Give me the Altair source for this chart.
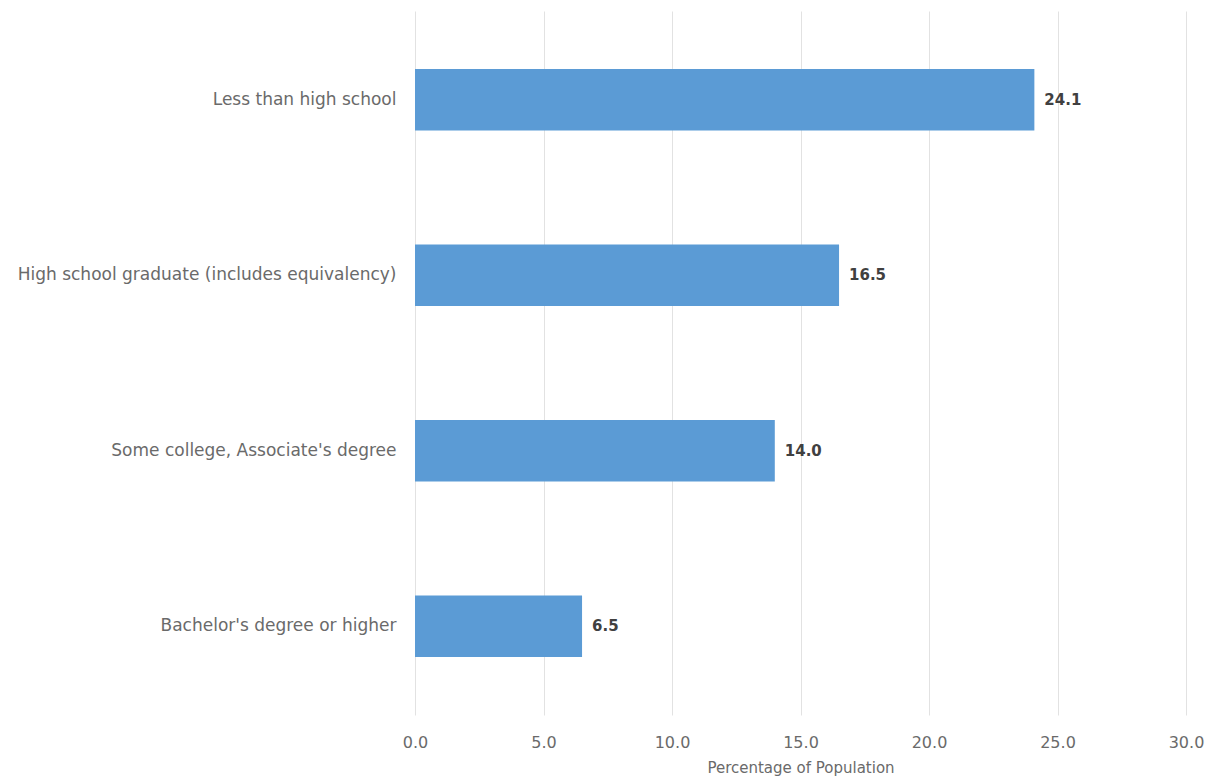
import altair as alt
import pandas as pd

# Share of population by educational attainment
categories = [
    "Less than high school",
    "High school graduate (includes equivalency)",
    "Some college, Associate's degree",
    "Bachelor's degree or higher",
]
values = [24.1, 16.5, 14.0, 6.5]
x_ticks = [0, 5, 10, 15, 20, 25, 30]

df = pd.DataFrame({"category": categories, "value": values})
df["label"] = df["value"].map(lambda v: f"{v:.1f}")

FONT = "DejaVu Sans"
TEXT_GREY = "#6a6a6a"

y_enc = alt.Y(
    "category:N",
    sort=categories,
    scale=alt.Scale(paddingInner=0.65, paddingOuter=0.33),
    axis=alt.Axis(
        title=None,
        domain=False,
        ticks=False,
        grid=False,
        labelPadding=19,
        labelFont=FONT,
        labelFontSize=17,
        labelColor=TEXT_GREY,
        labelLimit=420,
    ),
)

x_enc = alt.X(
    "value:Q",
    scale=alt.Scale(domain=[0, 30], nice=False),
    axis=alt.Axis(
        title="Percentage of Population",
        values=x_ticks,
        format=".1f",
        domain=False,
        ticks=False,
        grid=True,
        gridColor="#e2e2e2",
        gridWidth=1,
        labelFlush=False,
        labelPadding=19,
        labelFont=FONT,
        labelFontSize=16,
        labelColor=TEXT_GREY,
        titleFont=FONT,
        titleFontSize=15,
        titleFontWeight="normal",
        titleColor=TEXT_GREY,
        titlePadding=10,
    ),
)

bars = alt.Chart(df).mark_bar(color="#5B9BD5").encode(x=x_enc, y=y_enc)

# value annotations to the right of each bar
labels = alt.Chart(df).mark_text(
    align="left", baseline="middle", dx=10, font=FONT, fontSize=15,
    fontWeight="bold", color="#404040",
).encode(
    x="value:Q",
    y=alt.Y("category:N", sort=categories),
    text="label:N",
)

chart = (
    alt.layer(bars, labels)
    .properties(
        width=771,
        height=704,
        autosize=alt.AutoSizeParams(type="none"),
        padding={"left": 415, "top": 11, "right": 26, "bottom": 67},
        view=alt.ViewBackground(stroke="transparent", strokeWidth=0),
    )
    .configure_view(strokeWidth=0)
    .configure(background="white")
)

chart.save("out.html", embed_options={"renderer": "svg", "actions": False})
